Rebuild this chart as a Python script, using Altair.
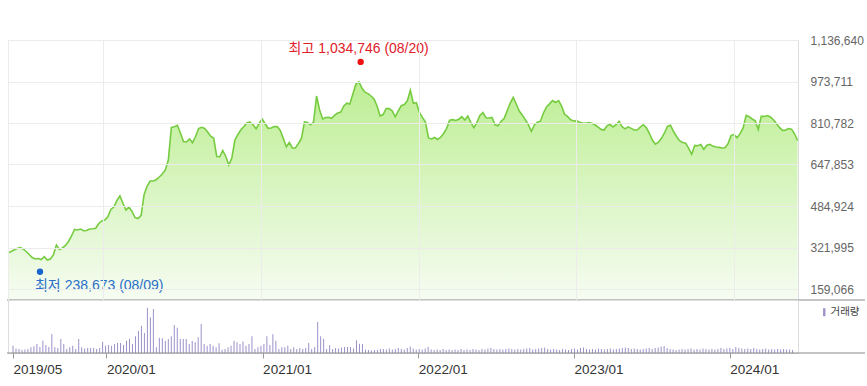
import altair as alt
import pandas as pd

# ---- data (weekly, from 2019-05-27) ----
price = [
    300400, 306300, 312200, 318100, 322000, 316100, 306300, 294500, 282700, 276900,
    278800, 274900, 285900, 272900, 276900, 292600, 331800, 314200, 320100, 329900,
    345600, 367200, 392700, 390700, 394600, 388000, 388800, 394600, 395800, 397400,
    416200, 426100, 430000, 442600, 471200, 481000, 506500, 524200, 495500, 469200,
    481000, 463400, 439800, 435900, 448400, 530100, 563500, 583100, 583100, 588200,
    598800, 610600, 626300, 665500, 793900, 796300, 801800, 771500, 738200, 736200,
    748000, 733500, 757800, 789200, 793900, 789200, 775500, 758600, 750700, 679300,
    678500, 702800, 679300, 645900, 673400, 744100, 765700, 784100, 797100, 812000,
    814700, 804100, 788000, 808800, 826500, 807700, 790000, 791200, 796700, 797100,
    781700, 749600, 717400, 734200, 712700, 712700, 730300, 749900, 814700, 812400,
    803700, 814700, 916800, 861800, 826500, 832400, 833200, 829300, 841400, 850100,
    854000, 877500, 888500, 885400, 924700, 962700, 973000, 948200, 931700, 926200,
    916800, 905000, 877500, 838300, 843800, 867700, 867300, 858700, 835100, 857900,
    878700, 883400, 897600, 939200, 888100, 890500, 852000, 832800, 814700, 751900,
    748000, 753900, 746000, 754700, 769600, 790000, 821400, 823800, 820600, 825700,
    835500, 822600, 838300, 812400, 792700, 812800, 840200, 852000, 831600, 830400,
    832400, 803700, 800200, 817500, 828500, 859100, 888100, 911700, 885400, 857900,
    842200, 823800, 804100, 778200, 802900, 813900, 817900, 850100, 873600, 885800,
    899100, 891300, 898400, 876800, 845000, 835900, 823400, 818700, 819400, 813200,
    810800, 810000, 812400, 810000, 803700, 795100, 785700, 783300, 799800, 805700,
    795100, 804100, 817500, 795900, 788000, 795500, 789600, 783300, 783300, 795100,
    804100, 792700, 770400, 744100, 727600, 735400, 750700, 771500, 797500, 801800,
    777400, 757800, 741300, 734600, 731500, 711500, 687900, 722900, 721300, 726000,
    707500, 723600, 726800, 720100, 716600, 715000, 712700, 713800, 729100, 761300,
    766000, 753100, 768800, 791600, 841000, 835500, 826500, 819800, 785300, 837100,
    836700, 839900, 834400, 823800, 808400, 793500, 781700, 782100, 789200, 786800,
    768400, 742100,
]

volume = [
    7.3, 4.5, 4, 3.3, 3.5, 4, 5.7, 6.7, 9, 6,
    12.3, 8, 6, 19, 5.7, 5, 14, 9, 4, 5.7,
    7.3, 4, 14, 5.7, 4.5, 5, 5, 5, 4, 5,
    11.3, 7.3, 8, 7.3, 9, 10, 10, 8, 12.3, 14,
    9, 16.7, 22, 27.3, 20, 45.3, 35.7, 44, 5.7, 15.3,
    14.7, 12.3, 14, 16.7, 28, 25.3, 14, 14, 14, 9,
    12, 10.7, 15.7, 29, 9, 7.3, 9, 7.3, 5.7, 9.7,
    3.3, 4, 5.7, 7.3, 12.3, 10.7, 9, 11.5, 7.3, 9,
    16.7, 4, 5.7, 7.3, 9, 16.7, 8, 18.7, 12.3, 4,
    5.7, 5.7, 7.3, 4, 5.7, 4, 5, 4, 5, 10,
    4, 6, 31, 16.7, 14.3, 4, 7.7, 4, 5, 4.5,
    5.5, 6, 6, 6, 4.5, 12.7, 9.3, 9, 3.5, 3,
    2.5, 3, 3, 4, 4, 3.5, 4.5, 3.5, 4, 5,
    4, 3.5, 5, 6.5, 4.5, 3.5, 4, 3.5, 4.5, 6,
    3.5, 3, 3.5, 3, 4, 3, 3.5, 3, 3.5, 3,
    4, 3, 3.5, 3, 4, 3.5, 3, 4, 3.5, 4.5,
    5, 4, 3.5, 4, 3.5, 4, 4.5, 4, 3.5, 4,
    3.5, 4, 4.5, 5, 3.5, 4, 4.5, 5, 5.5, 4,
    3.5, 4, 3.5, 3, 4, 3.5, 3, 4, 4.5, 3.5,
    5, 5.5, 4, 3.5, 4, 3.5, 4.5, 4, 3.5, 4,
    4.5, 3.5, 4, 4.5, 5, 5.5, 5, 4, 4.5, 4,
    3.5, 4, 4.5, 5, 4, 5, 5.5, 6.5, 7, 5,
    4, 3.5, 3, 3.5, 4, 3.5, 4, 4.5, 3.5, 4,
    3.5, 4.5, 4, 3.5, 4, 3.5, 4, 5, 4, 4.5,
    5, 4, 6, 5, 4.5, 4, 4.5, 4, 5, 4,
    3.5, 4, 4.5, 3.5, 4, 3.5, 4, 3.5, 4, 3.5,
    3.5, 3,
]

y_ticks = [159066, 321995, 484924, 647853, 810782, 973711, 1136640]
y_min = 115880
x_tick_dates = [(2019, 5, 27), (2020, 1, 1), (2021, 1, 1), (2022, 1, 1), (2023, 1, 1), (2024, 1, 1)]

hi_date, hi_value, hi_label = "2021-08-20", 1034746, "최고 1,034,746 (08/20)"
lo_date, lo_value, lo_label = "2019-08-09", 238673, "최저 238,673 (08/09)"
vol_name = "거래량"

dates = pd.date_range("2019-05-27", periods=len(price), freq="7D").strftime("%Y-%m-%d")
df = pd.DataFrame({"date": dates, "price": price, "volume": volume, "series": vol_name})
hi = pd.DataFrame({"date": [hi_date], "price": [hi_value], "label": [hi_label]})
lo = pd.DataFrame({"date": [lo_date], "price": [lo_value], "label": [lo_label]})

FONT = "Liberation Sans, Noto Sans CJK KR, sans-serif"
W = 790

tick_vals = [alt.DateTime(year=y, month=m, date=d, utc=True) for y, m, d in x_tick_dates]
x_scale = alt.Scale(type="utc", domain=[alt.DateTime(year=2019, month=5, date=27, utc=True),
                                        alt.DateTime(year=2024, month=5, date=28, utc=True)])
y_scale = alt.Scale(domain=[y_min, y_ticks[-1]], zero=False, nice=False)

x_price = alt.X("date:T", scale=x_scale,
                axis=alt.Axis(values=tick_vals, grid=True, gridColor="#ececec", labels=False,
                              ticks=False, domain=False, title=None, zindex=1))
y_price = alt.Y("price:Q", scale=y_scale,
                axis=alt.Axis(orient="right", values=y_ticks, grid=True, gridColor="#ececec",
                              ticks=False, domain=False, title=None, format=",d",
                              labelPadding=12, labelFontSize=12, labelColor="#666666",
                              labelFont=FONT, zindex=1))

base = alt.Chart(df)
area = base.mark_area(
    color=alt.Gradient(gradient="linear",
                       stops=[alt.GradientStop(color="#bdee93", offset=0),
                              alt.GradientStop(color="#f6fcf2", offset=1)],
                       x1=1, x2=1, y1=0, y2=1),
    line=False,
).encode(x=x_price, y=y_price, y2=alt.datum(y_min))
line = base.mark_line(color="#76cc40", strokeWidth=1.6).encode(x="date:T", y="price:Q")

hi_pt = alt.Chart(hi).mark_point(filled=True, color="#ee1111", size=40, opacity=1, yOffset=-4).encode(
    x="date:T", y="price:Q")
hi_tx = alt.Chart(hi).mark_text(color="#e0202a", fontSize=14, font=FONT, dy=-17, dx=-2, align="center",
                                baseline="middle").encode(x="date:T", y="price:Q", text="label:N")
lo_pt = alt.Chart(lo).mark_point(filled=True, color="#1a64d0", size=40, opacity=1, yOffset=3).encode(
    x="date:T", y="price:Q")
lo_tx = alt.Chart(lo).mark_text(color="#2a6fc9", fontSize=14, font=FONT, dx=-5, dy=17, align="left",
                                baseline="middle").encode(x="date:T", y="price:Q", text="label:N")

price_border = alt.Chart(hi).mark_rule(color="#8a8a8a", strokeWidth=1).encode(
    x=alt.value(-1), x2=alt.value(857), y=alt.value(260))

price_chart = alt.layer(area, line, hi_pt, hi_tx, lo_pt, lo_tx, price_border).properties(width=W, height=260)

bars = base.mark_bar(size=1).encode(
    x=alt.X("date:T", scale=x_scale,
            axis=alt.Axis(values=tick_vals, format="%Y/%m", grid=False, domain=False, ticks=True,
                          tickSize=5, tickColor="#999999", labelAlign="left", labelBaseline="top",
                          labelPadding=4, labelFontSize=13.5, labelColor="#333333", labelFont=FONT,
                          labelFlush=False, title=None)),
    y=alt.Y("volume:Q", scale=alt.Scale(domain=[0, 53], nice=False), axis=None),
    color=alt.Color("series:N", scale=alt.Scale(range=["#9d91c9"]),
                    legend=alt.Legend(orient="none", legendX=811, legendY=7, title=None,
                                      symbolType="M-0.3,-1L0.3,-1L0.3,1L-0.3,1Z", symbolSize=64,
                                      symbolStrokeWidth=0, labelFontSize=10.5, labelColor="#444444",
                                      labelFont=FONT, labelOffset=1, padding=0)),
)
vol_border = alt.Chart(hi).mark_rule(color="#8a8a8a", strokeWidth=1).encode(
    x=alt.value(-1), x2=alt.value(857), y=alt.value(53))

vol_chart = alt.layer(bars, vol_border).properties(width=W, height=53)

chart = alt.vconcat(price_chart, vol_chart, spacing=0, bounds="flush").resolve_legend(
    color="independent"
).properties(
    padding={"left": 4, "top": 33, "right": 0, "bottom": 0}
).configure_view(stroke=None).configure(font=FONT, background="white")

chart.save("out.html", embed_options={"renderer": "svg", "actions": False})
